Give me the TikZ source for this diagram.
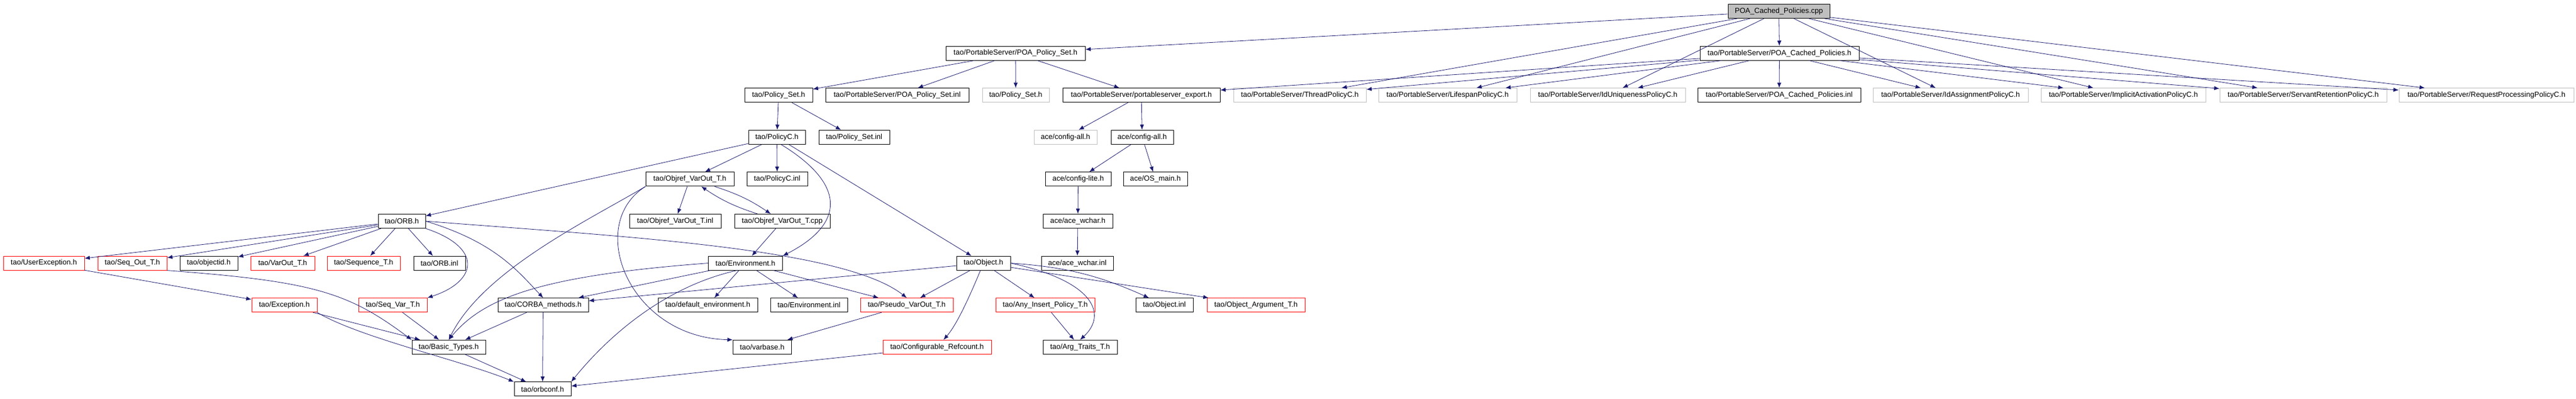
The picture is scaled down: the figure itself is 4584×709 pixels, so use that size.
\documentclass[tikz,border=0pt]{standalone}
\usepackage{fontspec}
\setmainfont{Liberation Sans}
\usepackage{xcolor}
\usepackage{tikz}
\usetikzlibrary{arrows.meta}
\definecolor{edgeblue}{RGB}{25,25,112}
\definecolor{nodegray}{RGB}{191,191,191}

\begin{document}
\begin{tikzpicture}[x=0.75pt,y=-0.75pt,
	file/.style={draw=black,fill=white,line width=0.75pt,minimum width=#1*0.75pt,
		minimum height=18.75pt,inner sep=0pt,font=\fontsize{9.8}{11}\selectfont},
	gfile/.style={file=#1,draw=nodegray},
	rfile/.style={file=#1,draw=red},
	dep/.style={draw=edgeblue,line width=0.6pt,-{Latex[length=7pt,width=5.5pt]}}]
	\useasboundingbox (0,0) rectangle (4584,709);
	
	% top row
	\node[file=181,fill=nodegray] (cpp) at (3165.5,20) {POA\_Cached\_Policies.cpp};
	\node[file=248] (pps) at (1807,94.6) {tao/PortableServer/POA\_Policy\_Set.h};
	\node[file=283] (pch) at (3166.5,94.6) {tao/PortableServer/POA\_Cached\_Policies.h};
	
	% policy headers
	\node[file=121] (ps) at (1385.5,169.2) {tao/Policy\_Set.h};
	\node[file=255] (ppsinl) at (1596.5,169.2) {tao/PortableServer/POA\_Policy\_Set.inl};
	\node[gfile=119] (psg) at (1807.5,169.2) {tao/Policy\_Set.h};
	\node[file=280] (pse) at (2031,169.2) {tao/PortableServer/portableserver\_export.h};
	\node[gfile=236] (thr) at (2313,169.2) {tao/PortableServer/ThreadPolicyC.h};
	\node[gfile=246] (lsp) at (2576,169.2) {tao/PortableServer/LifespanPolicyC.h};
	\node[gfile=276] (idu) at (2861,169.2) {tao/PortableServer/IdUniquenessPolicyC.h};
	\node[file=290] (pcinl) at (3166,169.2) {tao/PortableServer/POA\_Cached\_Policies.inl};
	\node[gfile=276] (ida) at (3471,169.2) {tao/PortableServer/IdAssignmentPolicyC.h};
	\node[gfile=293] (iap) at (3778.5,169.2) {tao/PortableServer/ImplicitActivationPolicyC.h};
	\node[gfile=297] (srp) at (4098.5,169.2) {tao/PortableServer/ServantRetentionPolicyC.h};
	\node[gfile=311] (rpp) at (4424.5,169.2) {tao/PortableServer/RequestProcessingPolicyC.h};
	
	\node[file=101] (pc) at (1382.5,243.8) {tao/PolicyC.h};
	\node[file=126] (psinl) at (1520,243.8) {tao/Policy\_Set.inl};
	\node[gfile=112] (cag) at (1896,243.8) {ace/config-all.h};
	\node[file=111] (ca) at (2032.5,243.8) {ace/config-all.h};
	
	\node[file=157] (ovo) at (1227.5,318.4) {tao/Objref\_VarOut\_T.h};
	\node[file=108] (pcinl2) at (1383,318.4) {tao/PolicyC.inl};
	\node[file=117] (cl) at (1918.5,318.4) {ace/config-lite.h};
	\node[file=114] (osm) at (2056,318.4) {ace/OS\_main.h};
	
	\node[file=84] (orb) at (715,393) {tao/ORB.h};
	\node[file=163] (ovoinl) at (1201.5,393) {tao/Objref\_VarOut\_T.inl};
	\node[file=170] (ovocpp) at (1392,393) {tao/Objref\_VarOut\_T.cpp};
	\node[file=124] (aw) at (1918,393) {ace/ace\_wchar.h};
	
	% ORB, Environment and Object level
	\node[rfile=144] (uex) at (78,467.6) {tao/UserException.h};
	\node[rfile=123] (sot) at (235.5,467.6) {tao/Seq\_Out\_T.h};
	\node[file=103] (oid) at (371.5,467.6) {tao/objectid.h};
	\node[rfile=114] (vot) at (503,467.6) {tao/VarOut\_T.h};
	\node[rfile=130] (sqt) at (647,467.6) {tao/Sequence\_T.h};
	\node[file=92] (orbinl) at (782,467.6) {tao/ORB.inl};
	\node[file=132] (env) at (1326.5,467.6) {tao/Environment.h};
	\node[file=96] (obj) at (1750,467.6) {tao/Object.h};
	\node[file=128] (awinl) at (1917,467.6) {ace/ace\_wchar.inl};
	
	\node[rfile=116] (exc) at (506,542.2) {tao/Exception.h};
	\node[rfile=122] (svt) at (699,542.2) {tao/Seq\_Var\_T.h};
	\node[file=161] (cm) at (966.5,542.2) {tao/CORBA\_methods.h};
	\node[file=177] (denv) at (1259.5,542.2) {tao/default\_environment.h};
	\node[file=137] (envinl) at (1439.5,542.2) {tao/Environment.inl};
	\node[rfile=165] (pvo) at (1613.5,542.2) {tao/Pseudo\_VarOut\_T.h};
	\node[rfile=176] (aip) at (1860,542.2) {tao/Any\_Insert\_Policy\_T.h};
	\node[file=102] (objinl) at (2072,542.2) {tao/Object.inl};
	\node[rfile=174] (oat) at (2235,542.2) {tao/Object\_Argument\_T.h};
	
	\node[file=131] (bt) at (798.5,616.8) {tao/Basic\_Types.h};
	\node[file=104] (vb) at (1356.3,616.8) {tao/varbase.h};
	\node[rfile=193] (cr) at (1667.5,616.8) {tao/Configurable\_Refcount.h};
	\node[file=132] (att) at (1922,616.8) {tao/Arg\_Traits\_T.h};
	
	\node[file=101] (oc) at (965.5,691.4) {tao/orbconf.h};
	
	% includes of the .cpp
	\draw[dep] (cpp) -- (pps);
	\draw[dep] (cpp) -- (pch);
	\draw[dep] (cpp) -- (thr);
	\draw[dep] (cpp) -- (lsp);
	\draw[dep] (cpp) -- (idu);
	\draw[dep] (cpp) -- (ida);
	\draw[dep] (cpp) -- (iap);
	\draw[dep] (cpp) -- (srp);
	\draw[dep] (cpp) -- (rpp);
	
	\draw[dep] (pch) -- (pse);
	\draw[dep] (pch) -- (thr);
	\draw[dep] (pch) -- (lsp);
	\draw[dep] (pch) -- (idu);
	\draw[dep] (pch) -- (pcinl);
	\draw[dep] (pch) -- (ida);
	\draw[dep] (pch) -- (iap);
	\draw[dep] (pch) -- (srp);
	\draw[dep] (pch) -- (rpp);
	
	\draw[dep] (pps) -- (ps);
	\draw[dep] (pps) -- (ppsinl);
	\draw[dep] (pps) -- (psg);
	\draw[dep] (pps) -- (pse);
	\draw[dep] (ps) -- (pc);
	\draw[dep] (ps) -- (psinl);
	\draw[dep] (pse) -- (cag);
	\draw[dep] (pse) -- (ca);
	\draw[dep] (ca) -- (cl);
	\draw[dep] (ca) -- (osm);
	\draw[dep] (cl) -- (aw);
	\draw[dep] (aw) -- (awinl);
	
	\draw[dep] (pc) -- (orb);
	\draw[dep] (pc) -- (ovo);
	\draw[dep] (pc) -- (pcinl2);
	\draw[dep] (pc.-60) .. controls (1510,330) and (1500,400) .. (env.north east);
	\draw[dep] (pc) -- (obj);
	
	\draw[dep] (ovo) -- (ovoinl);
	\draw[dep] (ovo) to[bend left=8] (ovocpp);
	\draw[dep] (ovocpp) to[bend left=8] (ovo);
	\draw[dep] (ovo.south west) .. controls (1050,390) and (860,480) .. (bt.north);
	\draw[dep] (ovo.south west) .. controls (1040,400) and (1120,600) .. (vb.north west);
	\draw[dep] (ovocpp) -- (env);
	
	% ORB.h
	\draw[dep] (orb) -- (uex);
	\draw[dep] (orb) -- (sot);
	\draw[dep] (orb) -- (oid);
	\draw[dep] (orb) -- (vot);
	\draw[dep] (orb) -- (sqt);
	\draw[dep] (orb) -- (orbinl);
	\draw[dep] (orb.south east) .. controls (860,440) and (850,500) .. (svt.north east);
	\draw[dep] (orb.east) .. controls (880,430) and (920,480) .. (cm.north);
	\draw[dep] (orb.east) .. controls (1100,420) and (1500,440) .. (pvo.north);
	\draw[dep] (uex) -- (exc);
	\draw[dep] (sot.south east) .. controls (560,500) and (620,520) .. (bt.north west);
	\draw[dep] (exc) -- (bt);
	\draw[dep] (exc.south east) .. controls (640,600) and (820,640) .. (oc.north west);
	\draw[dep] (svt) -- (bt);
	\draw[dep] (cm) -- (bt);
	\draw[dep] (cm) -- (oc);
	\draw[dep] (bt) -- (oc);
	
	% Environment.h
	\draw[dep] (env.west) .. controls (960,490) and (860,530) .. (bt.north);
	\draw[dep] (env) -- (cm);
	\draw[dep] (env.-140) .. controls (1180,510) and (1080,600) .. (oc.north east);
	\draw[dep] (env) -- (denv);
	\draw[dep] (env) -- (envinl);
	\draw[dep] (env) -- (pvo);
	\draw[dep] (pvo) -- (vb);
	
	% Object.h
	\draw[dep] (obj) -- (cm);
	\draw[dep] (obj) -- (pvo);
	\draw[dep] (obj) .. controls (1720,540) and (1700,580) .. (cr);
	\draw[dep] (obj) -- (aip);
	\draw[dep] (obj.east) to[bend left=10] (objinl);
	\draw[dep] (obj.east) .. controls (1950,500) and (1970,560) .. (att.north);
	\draw[dep] (obj) -- (oat);
	\draw[dep] (aip) -- (att);
	\draw[dep] (cr) -- (oc);
\end{tikzpicture}
\end{document}
